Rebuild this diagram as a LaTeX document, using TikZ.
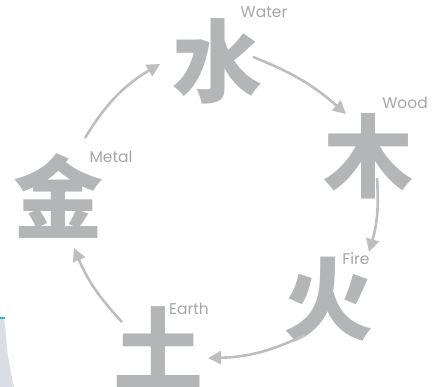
\documentclass[tikz,border=0pt]{standalone}
\usepackage{fontspec}
\usetikzlibrary{arrows.meta}
\newfontfamily\cjk{Noto Sans CJK SC}
\newfontfamily\lab{Poppins}
\definecolor{glyph}{HTML}{B4B5B7}
\definecolor{labc}{HTML}{A5A6A9}
\definecolor{arr}{HTML}{BDBEC0}
\definecolor{corner}{HTML}{D9DDE6}
\definecolor{cyanedge}{HTML}{2FB3D6}
\tikzset{
  elem/.style={text=glyph, font=\cjk\bfseries\fontsize{90}{90}\selectfont, inner sep=0pt, text height=0.78em, text depth=0.04em, anchor=base},
  lbl/.style={text=labc, font=\lab\fontsize{15.5}{15.5}\selectfont, inner sep=0pt},
  cyc/.style={draw=arr, line width=2.6pt, -{Triangle[length=13pt,width=13pt]}}
}
\begin{document}
\begin{tikzpicture}[x=1pt,y=-1pt]
\useasboundingbox (0,0) rectangle (446,387);
% corner shape
\fill[corner] (0,318) -- (4,318) .. controls (6,330) and (6,345) .. (9,362) .. controls (11,372) and (12,380) .. (14,387) -- (0,387) -- cycle;
\fill[cyanedge] (0,317) rectangle (4.5,318.5);
% elements
\node[elem] (water) at (217,96) {水};
\node[elem] (wood) at (368,190) {木};
\node[elem] (fire) at (328,333) {火};
\node[elem] (earth) at (158,383) {土};
\node[elem] (metal) at (58,231) {金};
% labels
\node[lbl] (lwater) at (264,12) {Water};
\node[lbl] (lwood) at (405,103) {Wood};
\node[lbl] (lfire) at (356,259) {Fire};
\node[lbl] (learth) at (189,309) {Earth};
\node[lbl] (lmetal) at (111,157) {Metal};
% arrow endpoints
\coordinate (a1s) at (85,138);  \coordinate (a1e) at (160,64);
\coordinate (a2s) at (253,57);  \coordinate (a2e) at (346,114);
\coordinate (a3s) at (377,178); \coordinate (a3e) at (369,252);
\coordinate (a4s) at (305,335); \coordinate (a4e) at (208,358);
\coordinate (a5s) at (122,322); \coordinate (a5e) at (74,248);
\draw[cyc] (a1s) to[bend left=14] (a1e);
\draw[cyc] (a2s) to[bend left=10] (a2e);
\draw[cyc] (a3s) to[bend left=10] (a3e);
\draw[cyc] (a4s) to[bend left=12] (a4e);
\draw[cyc] (a5s) to[bend left=10] (a5e);
\end{tikzpicture}
\end{document}
